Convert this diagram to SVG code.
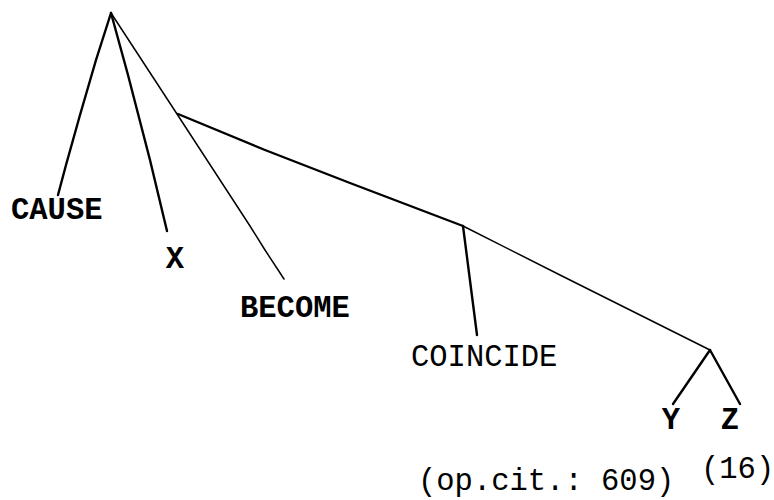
<svg xmlns="http://www.w3.org/2000/svg" width="774" height="500" viewBox="0 0 774 500">
<style>
  .bg { fill: #ffffff; }
  .e { stroke: #000; fill: none; stroke-linecap: round; stroke-linejoin: round; }
  .thick { stroke-width: 2.4; }
  .thin { stroke-width: 1.5; }
  .lbl { font-family: "Liberation Mono", "Courier New", monospace; font-size: 30.5px; fill: #000; }
  .b { font-weight: bold; }
</style>
<rect class="bg" x="0" y="0" width="774" height="500"/>
<g id="connectors">
  <path class="e thick" d="M111,13 L96,60 L80,115 L66,165 L58,195"/>
  <path class="e thick" d="M111,13 L128,75 L150,160 L167,231"/>
  <path class="e thin" d="M111,13 L177,114 L250,226 L265,250 L284,279"/>
  <path class="e thick" d="M178,114 L265,150 L350,183 L463,226"/>
  <path class="e thick" d="M463,226 L477,335"/>
  <path class="e thin" d="M463,226 L560,275 L710,350"/>
  <path class="e thick" d="M710,350 L673,404"/>
  <path class="e thick" d="M710,350 L740,404"/>
</g>
<g id="node-cause"><text class="lbl b" x="11" y="219">CAUSE</text></g>
<g id="node-x"><text class="lbl b" x="175" y="268" text-anchor="middle">X</text></g>
<g id="node-become"><text class="lbl b" x="240" y="317">BECOME</text></g>
<g id="node-coincide"><text class="lbl" x="411" y="366">COINCIDE</text></g>
<g id="node-y"><text class="lbl b" x="671" y="429" text-anchor="middle">Y</text></g>
<g id="node-z"><text class="lbl b" x="730" y="429" text-anchor="middle">Z</text></g>
<g id="citation"><text class="lbl" x="418" y="490">(op.cit.: 609)</text></g>
<g id="number"><text class="lbl" x="701" y="478">(16)</text></g>
</svg>
